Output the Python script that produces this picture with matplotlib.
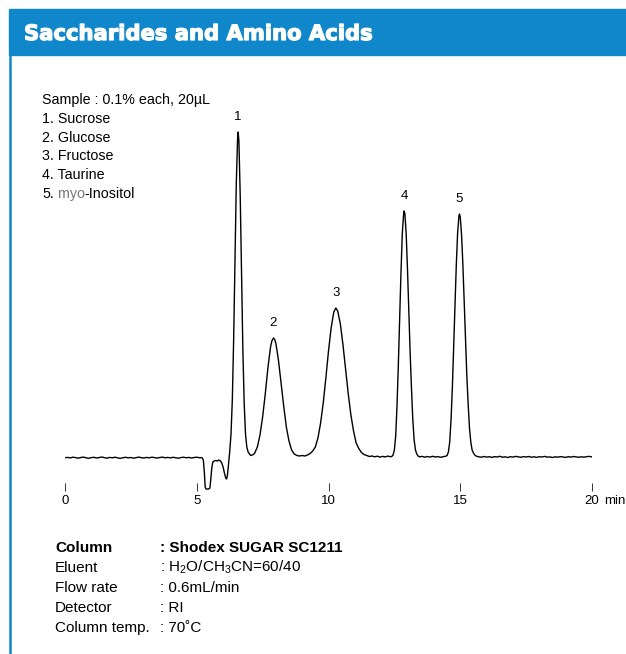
import numpy as np
import matplotlib
matplotlib.use("Agg")
import matplotlib.pyplot as plt
import matplotlib.patheffects as pe
from matplotlib.patches import Rectangle
from matplotlib.lines import Line2D

plt.rcParams['font.family'] = ['Liberation Sans', 'DejaVu Sans']
plt.rcParams['mathtext.fontset'] = 'custom'
plt.rcParams['mathtext.rm'] = 'Liberation Sans'
plt.rcParams['mathtext.default'] = 'rm'

W, H = 626, 654
BLUE = '#1087ca'

# Chromatogram (time in min, signal in arbitrary units)
rt = [
    0.0, 0.1, 0.2, 0.3, 0.4, 0.5, 0.6, 0.7, 0.8, 0.9,
    1.0, 1.1, 1.2, 1.3, 1.4, 1.5, 1.6, 1.7, 1.8, 1.9,
    2.0, 2.1, 2.2, 2.3, 2.4, 2.5, 2.6, 2.7, 2.8, 2.9,
    3.0, 3.1, 3.2, 3.3, 3.4, 3.5, 3.6, 3.7, 3.8, 3.9,
    4.0, 4.1, 4.2, 4.3, 4.4, 4.5, 4.6, 4.7, 4.8, 4.9,
    5.0, 5.1, 5.2,
    5.25, 5.29, 5.32, 5.35, 5.40, 5.45, 5.50, 5.53, 5.57, 5.61,
    5.66, 5.72, 5.78, 5.84, 5.90, 5.95, 6.00, 6.05, 6.10, 6.13,
    6.16, 6.20,
    6.25, 6.30, 6.35, 6.40, 6.45, 6.50, 6.55, 6.57, 6.60, 6.65,
    6.70, 6.75, 6.80, 6.85, 6.90, 6.95, 7.00, 7.05, 7.10, 7.15,
    7.20, 7.30, 7.40, 7.50, 7.60, 7.70, 7.80, 7.85, 7.91, 7.95,
    8.00, 8.10, 8.20, 8.30, 8.40, 8.50, 8.60, 8.70, 8.80, 8.90,
    9.00, 9.10, 9.20, 9.30, 9.40, 9.50, 9.60, 9.70, 9.80, 9.90,
    10.00, 10.10, 10.20, 10.28, 10.35, 10.45, 10.55, 10.65, 10.75, 10.85,
    10.95, 11.05, 11.15, 11.25, 11.35, 11.45, 11.55, 11.65, 11.75, 11.85,
    11.95, 12.05, 12.15, 12.25, 12.35, 12.40, 12.45, 12.50, 12.55, 12.60,
    12.65, 12.70, 12.75, 12.80, 12.85, 12.87, 12.90, 12.95, 13.00, 13.05,
    13.10, 13.15, 13.20, 13.25, 13.30, 13.35, 13.40, 13.45, 13.55, 13.65,
    13.75, 13.85, 13.95, 14.05, 14.15, 14.25, 14.35, 14.45, 14.50, 14.55,
    14.60, 14.65, 14.70, 14.75, 14.80, 14.85, 14.90, 14.95, 14.97, 15.00,
    15.05, 15.10, 15.15, 15.20, 15.25, 15.30, 15.35, 15.40, 15.45, 15.50,
    15.55, 15.60, 15.65,
    15.7, 15.8, 15.9, 16.0, 16.1, 16.2, 16.3, 16.4, 16.5, 16.6,
    16.7, 16.8, 16.9, 17.0, 17.1, 17.2, 17.3, 17.4, 17.5, 17.6,
    17.7, 17.8, 17.9, 18.0, 18.1, 18.2, 18.3, 18.4, 18.5, 18.6,
    18.7, 18.8, 18.9, 19.0, 19.1, 19.2, 19.3, 19.4, 19.5, 19.6,
    19.7, 19.8, 19.9, 20.0,
]
signal = [
    0.3, 0.6, 0.1, 0.8, 0.4, -0.2, 0.5, 0.9, 0.2, -0.3,
    0.4, 0.7, 0.0, 0.5, 1.0, 0.3, -0.1, 0.6, 0.2, 0.8,
    0.1, -0.4, 0.3, 0.7, 0.2, 0.5, -0.2, 0.4, 0.9, 0.3,
    0.0, 0.6, 0.2, 0.8, 0.4, -0.1, 0.5, 0.9, 0.2, 0.6,
    0.1, 0.7, 0.3, -0.2, 0.4, 0.8, 0.2, 0.6, 0.0, 0.5,
    0.8, 0.3, 0.4,
    -2, -15, -29, -31, -31, -31, -30, -22, -10, -4,
    -3, -2.5, -3, -2, -3, -5, -9, -15, -20, -21,
    -18, -8,
    6, 24, 58, 118, 196, 274, 320, 326, 317, 262,
    183, 108, 55, 24, 11, 6, 4, 2.5, 3, 3.5,
    5, 11, 23, 41, 64, 90, 111, 117, 120, 119,
    115, 98, 75, 52, 31, 17, 8, 4, 2.5, 2,
    2.5, 2, 3, 4.4, 7, 11, 20, 35, 55, 80,
    107, 130, 146, 150, 147, 134, 113, 88, 64, 43,
    27, 15, 9.5, 5.5, 3.5, 2.5, 1.5, 2.0, 1.2, 1.8,
    0.9, 1.6, 1.1, 1.9, 1.3, 1.5, 3, 8, 22, 52,
    93, 138, 185, 224, 244, 247, 244, 223, 187, 146,
    104, 69, 38, 18, 8, 4, 2, 1.2, 1.6, 0.8,
    1.5, 0.9, 1.7, 1.0, 1.4, 0.7, 1.3, 1.8, 2.5, 6,
    16, 38, 70, 111, 152, 193, 225, 242, 244, 241,
    223, 193, 156, 117, 82, 54, 30, 16, 8, 5,
    3, 2, 1.5,
    1.2, 0.8, 1.5, 0.9, 1.3, 0.6, 1.4, 1.0, 1.7, 0.8,
    1.2, 0.5, 1.3, 0.9, 1.6, 1.1, 0.7, 1.4, 1.0, 1.5,
    0.8, 1.2, 0.6, 1.3, 1.0, 1.6, 0.9, 1.1, 0.5, 1.2,
    0.8, 1.4, 1.0, 0.6, 1.3, 0.9, 1.5, 1.1, 0.7, 1.2,
    0.8, 1.4, 1.6, 1.0,
]

peak_labels = ['1', '2', '3', '4', '5']
peak_rt = [6.57, 7.91, 10.28, 12.87, 14.97]
peak_height = [326, 120, 150, 247, 244]

x_ticks = [0, 5, 10, 15, 20]

title = 'Saccharides and Amino Acids'
sample_lines = ['Sample : 0.1% each, 20µL', '1. Sucrose', '2. Glucose',
                '3. Fructose', '4. Taurine']
cond_names = ['Column', 'Eluent', 'Flow rate', 'Detector', 'Column temp.']
cond_values = [': Shodex SUGAR SC1211', r': H$_2$O/CH$_3$CN=60/40',
               ': 0.6mL/min', ': RI', ': 70˚C']


def fx(px):
    return px / W


def fy(py):
    return 1 - py / H


fig = plt.figure(figsize=(W / 100, H / 100), dpi=100)

# header band and left border
fig.patches.append(Rectangle((fx(9), fy(55)), fx(626) - fx(9), fy(9) - fy(55),
                             transform=fig.transFigure, color=BLUE, zorder=0))
fig.add_artist(Line2D([fx(10.3), fx(10.3)], [fy(54), 0], color=BLUE, lw=1.8))
fig.text(fx(24), fy(40), title, color='white', fontsize=15.2,
         fontweight='bold', family='DejaVu Sans', va='baseline',
         path_effects=[pe.withStroke(linewidth=0.9, foreground='white')])

# chromatogram
ax = fig.add_axes([fx(65), fy(520), (592 - 65) / W, (520 - 90) / H])
ax.patch.set_visible(False)
ax.plot(rt, signal, color='black', lw=1.0)
ax.set_xlim(0, 20)
ax.set_ylim(458 - 520, 458 - 90)
for s in ax.spines.values():
    s.set_visible(False)
ax.spines['bottom'].set_position(('data', -29))
ax.set_yticks([])
ax.set_xticks(x_ticks)
ax.set_xticklabels([str(t) for t in x_ticks])
ax.tick_params(axis='x', direction='inout', length=5.8, width=0.7,
               pad=2.5, labelsize=9.5, color='#333333')

for lbl, t, h in zip(peak_labels, peak_rt, peak_height):
    ax.annotate(lbl, xy=(t, h), xytext=(0, 11), textcoords='offset points',
                ha='center', va='center', fontsize=9.5)

fig.text(fx(604), fy(501.5), 'min', fontsize=9.5, va='center')

# sample list
y = 104
for line in sample_lines:
    fig.text(fx(42), fy(y), line, fontsize=10.3, va='baseline')
    y += 18.8
t5 = fig.text(fx(42), fy(y), '5.', fontsize=10.3, va='baseline')
t_myo = ax.annotate(' myo', xy=(1, 0), xycoords=t5, ha='left', va='bottom',
                    fontsize=10.3, color='#777777', annotation_clip=False)
ax.annotate('-Inositol', xy=(1, 0), xycoords=t_myo, ha='left', va='bottom',
            fontsize=10.3, annotation_clip=False)

# conditions
y = 552
for i, (name, val) in enumerate(zip(cond_names, cond_values)):
    w = 'bold' if i == 0 else 'normal'
    fig.text(fx(55), fy(y), name, fontsize=11, fontweight=w, va='baseline')
    fig.text(fx(160), fy(y), val, fontsize=11, fontweight=w, va='baseline')
    y += 20.1

fig.savefig('out.png', dpi=100)
